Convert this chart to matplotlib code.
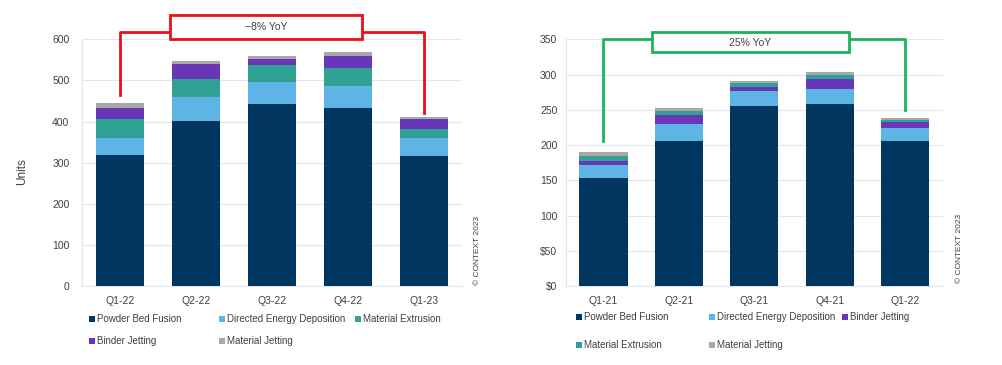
import matplotlib
matplotlib.use("Agg")
import matplotlib.pyplot as plt
from matplotlib.patches import Rectangle
from matplotlib.lines import Line2D

plt.rcParams['font.family'] = ['Liberation Sans', 'DejaVu Sans']

# Left chart data (Units)
left_cats = ["Q1-22", "Q2-22", "Q3-22", "Q4-22", "Q1-23"]
left_pbf = [318, 402, 443, 434, 317]
left_ded = [41, 57, 53, 53, 42]
left_me = [46, 45, 41, 42, 24]
left_bj = [27, 35, 16, 30, 22]
left_mj = [14, 8, 7, 10, 6]
left_yticks = [0, 100, 200, 300, 400, 500, 600]
left_yticklabels = ["0", "100", "200", "300", "400", "500", "600"]

# Right chart data
right_cats = ["Q1-21", "Q2-21", "Q3-21", "Q4-21", "Q1-22"]
right_pbf = [153, 206, 255, 258, 206]
right_ded = [18, 24, 21, 22, 18]
right_bj = [7, 12, 6, 14, 8]
right_me = [6, 6, 6, 6, 4]
right_mj = [6, 4, 3, 4, 3]
right_yticks = [0, 50, 100, 150, 200, 250, 300, 350]
right_yticklabels = ["$0", "$50", "100", "150", "200", "250", "300", "350"]

C_PBF = "#003660"
C_DED = "#5db4e5"
C_ME = "#30a195"
C_BJ = "#6a36b8"
C_MJ = "#a8a8a8"
TXT = "#404040"
GRID = "#dde8f3"

W, H = 1003, 365
fig = plt.figure(figsize=(W / 100, H / 100), dpi=100)


def ax_rect(x0, x1, ytop, ybot):
    return [x0 / W, 1 - ybot / H, (x1 - x0) / W, (ybot - ytop) / H]


def draw(ax, cats, series, ymax, yticks, yticklabels):
    x = list(range(len(cats)))
    bottom = [0] * len(cats)
    for vals, col, lab in series:
        ax.bar(x, vals, width=0.64, bottom=bottom, color=col, label=lab, zorder=3)
        bottom = [b + v for b, v in zip(bottom, vals)]
    ax.set_xlim(-0.5, len(cats) - 0.5)
    ax.set_ylim(0, ymax)
    ax.set_yticks(yticks)
    ax.set_yticklabels(yticklabels)
    ax.set_xticks(x)
    ax.set_xticklabels(cats)
    ax.tick_params(length=0, colors=TXT, labelsize=7.5)
    ax.tick_params(axis='x', pad=7)
    for s in ['top', 'right']:
        ax.spines[s].set_visible(False)
    for s in ['left', 'bottom']:
        ax.spines[s].set_color(GRID)
        ax.spines[s].set_linewidth(0.8)
    ax.yaxis.grid(True, color=GRID, linewidth=0.8, zorder=0)
    ax.set_axisbelow(True)


# Left axes
axL = fig.add_axes(ax_rect(82, 462, 39.3, 286))
draw(axL, left_cats,
     [(left_pbf, C_PBF, "Powder Bed Fusion"),
      (left_ded, C_DED, "Directed Energy Deposition"),
      (left_me, C_ME, "Material Extrusion"),
      (left_bj, C_BJ, "Binder Jetting"),
      (left_mj, C_MJ, "Material Jetting")],
     600, left_yticks, left_yticklabels)
axL.tick_params(axis='y', pad=9)
fig.text(22 / W, 1 - 172 / H, "Units", rotation=90, ha="center", va="center",
         fontsize=8.5, color=TXT)

# Red bracket
red = "#e8101a"
axL.add_line(Line2D([0, 0, 0.66], [464, 617, 617], color=red, lw=2, clip_on=False, zorder=5))
axL.add_line(Line2D([3.18, 4, 4], [617, 617, 420], color=red, lw=2, clip_on=False, zorder=5))
axL.add_patch(Rectangle((0.66, 600), 3.18 - 0.66, 60, facecolor="white", edgecolor=red,
                        lw=2, clip_on=False, zorder=6))
axL.text((0.66 + 3.18) / 2, 630, "\u22128% YoY", ha="center", va="center", fontsize=7.5,
         color=TXT, zorder=7, clip_on=False)

# Right axes
axR = fig.add_axes(ax_rect(565.7, 943, 39.3, 286))
draw(axR, right_cats,
     [(right_pbf, C_PBF, "Powder Bed Fusion"),
      (right_ded, C_DED, "Directed Energy Deposition"),
      (right_bj, C_BJ, "Binder Jetting"),
      (right_me, C_ME, "Material Extrusion"),
      (right_mj, C_MJ, "Material Jetting")],
     350, right_yticks, right_yticklabels)
axR.tick_params(axis='y', pad=6)

green = "#1db35a"
axR.add_line(Line2D([0, 0, 0.64], [206, 350, 350], color=green, lw=2, clip_on=False, zorder=5))
axR.add_line(Line2D([3.26, 4, 4], [350, 350, 250], color=green, lw=2, clip_on=False, zorder=5))
axR.add_patch(Rectangle((0.64, 332), 3.26 - 0.64, 28.7, facecolor="white", edgecolor=green,
                        lw=2, clip_on=False, zorder=6))
axR.text((0.64 + 3.26) / 2, 345, "25% YoY", ha="center", va="center", fontsize=7.5,
         color=TXT, zorder=7, clip_on=False)

# Copyright texts
fig.text(478 / W, 1 - 250 / H, "\u00a9 CONTEXT 2023", rotation=90, ha="center", va="center",
         fontsize=6, color=TXT)
fig.text(960 / W, 1 - 248 / H, "\u00a9 CONTEXT 2023", rotation=90, ha="center", va="center",
         fontsize=6, color=TXT)

# Legends (manual placement of entries in grid)
def legend_entries(items, positions):
    for (lab, col), (px, py) in zip(items, positions):
        fig.patches.append(Rectangle(((px - 3) / W, 1 - (py + 3) / H), 6 / W, 6 / H,
                                     facecolor=col, edgecolor='none',
                                     transform=fig.transFigure, figure=fig))
        fig.text((px + 5) / W, 1 - py / H, lab, ha="left", va="center", fontsize=7, color=TXT)

legend_entries(
    [("Powder Bed Fusion", C_PBF), ("Directed Energy Deposition", C_DED),
     ("Material Extrusion", C_ME), ("Binder Jetting", C_BJ), ("Material Jetting", C_MJ)],
    [(92, 319), (222, 319), (358, 319), (92, 341), (222, 341)])

legend_entries(
    [("Powder Bed Fusion", C_PBF), ("Directed Energy Deposition", C_DED),
     ("Binder Jetting", C_BJ), ("Material Extrusion", C_ME), ("Material Jetting", C_MJ)],
    [(579, 317), (712, 317), (845, 317), (579, 345), (712, 345)])

fig.savefig("out.png", dpi=100)
